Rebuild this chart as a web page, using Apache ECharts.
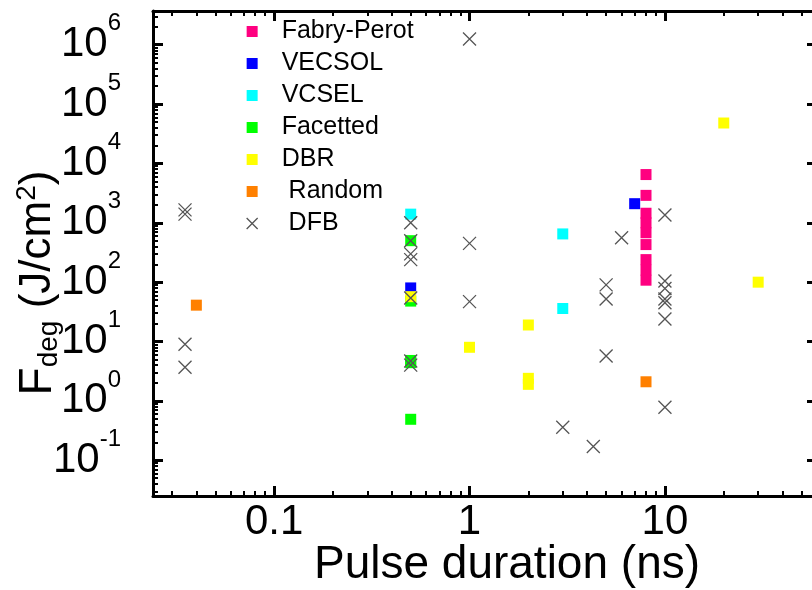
<!DOCTYPE html>
<html><head><meta charset="utf-8">
<script src="https://cdn.jsdelivr.net/npm/echarts@6/dist/echarts.min.js"></script>
<style>html,body{margin:0;padding:0;background:#fff}#c{width:812px;height:590px}</style>
</head><body><div id="c"></div>
<script>
const FONT = '"Liberation Sans", Arial, Helvetica, sans-serif';

// axis ranges and tick labels
const xRange = [0.024, 60];
const yRange = [0.025, 3.7e6];
const xMajorTicks = [0.1, 1, 10];
const yMajorTicks = [0.1, 1, 10, 100, 1e3, 1e4, 1e5, 1e6];

// data: pulse duration (ns) and F_deg (J/cm^2)
const fabryPerotX = [8, 8, 8, 8, 8, 8, 8, 8, 8];
const fabryPerotY = [6500, 2900, 1450, 1000, 680, 430, 240, 160, 108];
const vecsolX = [7, 0.5];
const vecsolY = [2100, 80];
const vcselX = [0.5, 3, 3];
const vcselY = [1400, 650, 36];
const facettedX = [0.5, 0.5, 0.5, 0.5, 0.5];
const facettedY = [500, 48, 4.8, 4.4, 0.49];
const dbrX = [0.5, 1, 2, 2, 2, 20, 30];
const dbrY = [57, 8, 19, 2.4, 1.9, 48000, 100];
const randomX = [0.04, 8];
const randomY = [41, 2.1];
const dfbX = [0.035, 0.035, 0.035, 0.035, 0.5, 0.5, 0.5, 0.5, 0.5, 0.5, 0.5, 1, 1, 1, 3, 4.3, 5, 5, 5, 6, 10, 10, 10, 10, 10, 10, 10];
const dfbY = [1650, 1400, 9, 3.7, 1000, 500, 300, 240, 54, 4.7, 4.0, 1.25e6, 450, 47, 0.36, 0.17, 90, 52, 5.7, 560, 1350, 105, 78, 52, 45, 24, 0.78];

const seriesNames = ['Fabry-Perot', 'VECSOL', 'VCSEL', 'Facetted', 'DBR', 'Random', 'DFB'];
const seriesColors = ['#FF0080', '#0000FF', '#00FFFF', '#00FF00', '#FFFF00', '#FF8000', '#555555'];
const CROSS = 'path://M0,0L10,10M10,0L0,10';

function pairs(xs, ys) { return xs.map((x, i) => [x, ys[i]]); }
function minorTicks(lo, hi) {
  const out = [];
  for (let e = Math.floor(Math.log10(lo)); e <= Math.ceil(Math.log10(hi)); e++) {
    for (let k = 2; k <= 9; k++) {
      const v = k * Math.pow(10, e);
      if (v >= lo && v <= hi) out.push(v);
    }
  }
  return out;
}
function baseAxis(range, position, extra) {
  return Object.assign({
    type: 'log', logBase: 10, min: range[0], max: range[1], position: position,
    splitLine: { show: false }, minorTick: { show: false }, minorSplitLine: { show: false },
    axisLine: { show: false }, axisLabel: { show: false }, axisTick: { show: false },
    nameMoveOverlap: false, silent: true
  }, extra);
}
const lineStyle = { color: '#000', width: 3 };
function majorTick(vals) { return { show: true, inside: true, length: 10, customValues: vals, lineStyle: { color: '#000', width: 3 } }; }
function minorTickCfg(vals) { return { show: true, inside: true, length: 5, customValues: vals, lineStyle: { color: '#000', width: 2 } }; }

const xMinor = minorTicks(xRange[0], xRange[1]);
const yMinor = minorTicks(yRange[0], yRange[1]);

const dataSets = [
  pairs(fabryPerotX, fabryPerotY), pairs(vecsolX, vecsolY), pairs(vcselX, vcselY),
  pairs(facettedX, facettedY), pairs(dbrX, dbrY), pairs(randomX, randomY), pairs(dfbX, dfbY)
];

const series = seriesNames.map((name, i) => {
  const isDfb = name === 'DFB';
  return {
    name: name, type: 'scatter', xAxisIndex: 0, yAxisIndex: 0,
    symbol: isDfb ? CROSS : 'rect', symbolSize: isDfb ? 13 : 11,
    data: dataSets[i],
    itemStyle: isDfb
      ? { color: 'rgba(0,0,0,0)', borderColor: seriesColors[i], borderWidth: 1.3, opacity: 1 }
      : { color: seriesColors[i], opacity: 1 },
    emphasis: { disabled: true }, z: 2 + i
  };
});

const chart = echarts.init(document.getElementById('c'), null, { renderer: 'canvas' });
chart.setOption({
  animation: false,
  backgroundColor: '#fff',
  grid: { left: 153, right: -5, top: 11, bottom: 94, outerBoundsMode: 'none', containLabel: false },
  legend: {
    orient: 'vertical', left: 246, top: 19, padding: 0, itemGap: 7, itemWidth: 11, itemHeight: 11,
    selectedMode: false,
    formatter: n => '{sp| }' + ((n === 'Random' || n === 'DFB') ? ' ' + n : n),
    textStyle: { fontSize: 25, fontFamily: FONT, color: '#000', lineHeight: 25,
      rich: { sp: { width: 19 } } },
    data: seriesNames.map((n, i) => n === 'DFB'
      ? { name: n, icon: CROSS, itemStyle: { color: 'rgba(0,0,0,0)', borderColor: seriesColors[i], borderWidth: 1.3, opacity: 1 } }
      : { name: n, icon: 'rect', itemStyle: { color: seriesColors[i], opacity: 1 } })
  },
  xAxis: [
    baseAxis(xRange, 'bottom', {
      axisLine: { show: true, onZero: false, lineStyle: lineStyle },
      axisTick: majorTick(xMajorTicks),
      axisLabel: { show: true, customValues: xMajorTicks, formatter: v => String(v), fontSize: 42, fontFamily: FONT, color: '#000', margin: 5 },
      name: 'Pulse duration (ns)', nameLocation: 'middle', nameGap: 46,
      nameTextStyle: { fontSize: 46, fontFamily: FONT, color: '#000', padding: [0, 0, 0, 44] }
    }),
    baseAxis(xRange, 'bottom', { axisTick: minorTickCfg(xMinor) }),
    baseAxis(xRange, 'top', { axisLine: { show: true, onZero: false, lineStyle: lineStyle }, axisTick: majorTick(xMajorTicks) }),
    baseAxis(xRange, 'top', { axisTick: minorTickCfg(xMinor) })
  ],
  yAxis: [
    baseAxis(yRange, 'left', {
      axisLine: { show: true, onZero: false, lineStyle: lineStyle },
      axisTick: majorTick(yMajorTicks),
      axisLabel: {
        show: true, customValues: yMajorTicks, margin: 32,
        formatter: v => '{b|10}{s|' + Math.round(Math.log10(v)) + '}',
        rich: {
          b: { fontSize: 42, fontFamily: FONT, color: '#000', lineHeight: 66 },
          s: { fontSize: 24, fontFamily: FONT, color: '#000', lineHeight: 24, verticalAlign: 'top' }
        }
      },
      name: '{f|F}{d|deg}{t| (J/cm}{p|2}{t|)}', nameLocation: 'middle', nameGap: 90, nameRotate: 90,
      nameTextStyle: {
        fontFamily: FONT, color: '#000', padding: [0, 59, 0, 0],
        rich: {
          f: { fontSize: 46, fontFamily: FONT, color: '#000', lineHeight: 50 },
          d: { fontSize: 28, fontFamily: FONT, color: '#000', verticalAlign: 'bottom', lineHeight: 28 },
          t: { fontSize: 44, fontFamily: FONT, color: '#000', lineHeight: 50 },
          p: { fontSize: 28, fontFamily: FONT, color: '#000', verticalAlign: 'top', lineHeight: 28 }
        }
      }
    }),
    baseAxis(yRange, 'left', { axisTick: minorTickCfg(yMinor) }),
    baseAxis(yRange, 'right', { axisLine: { show: true, onZero: false, lineStyle: lineStyle }, axisTick: majorTick(yMajorTicks) })
  ],
  series: series
});
</script>
</body></html>
